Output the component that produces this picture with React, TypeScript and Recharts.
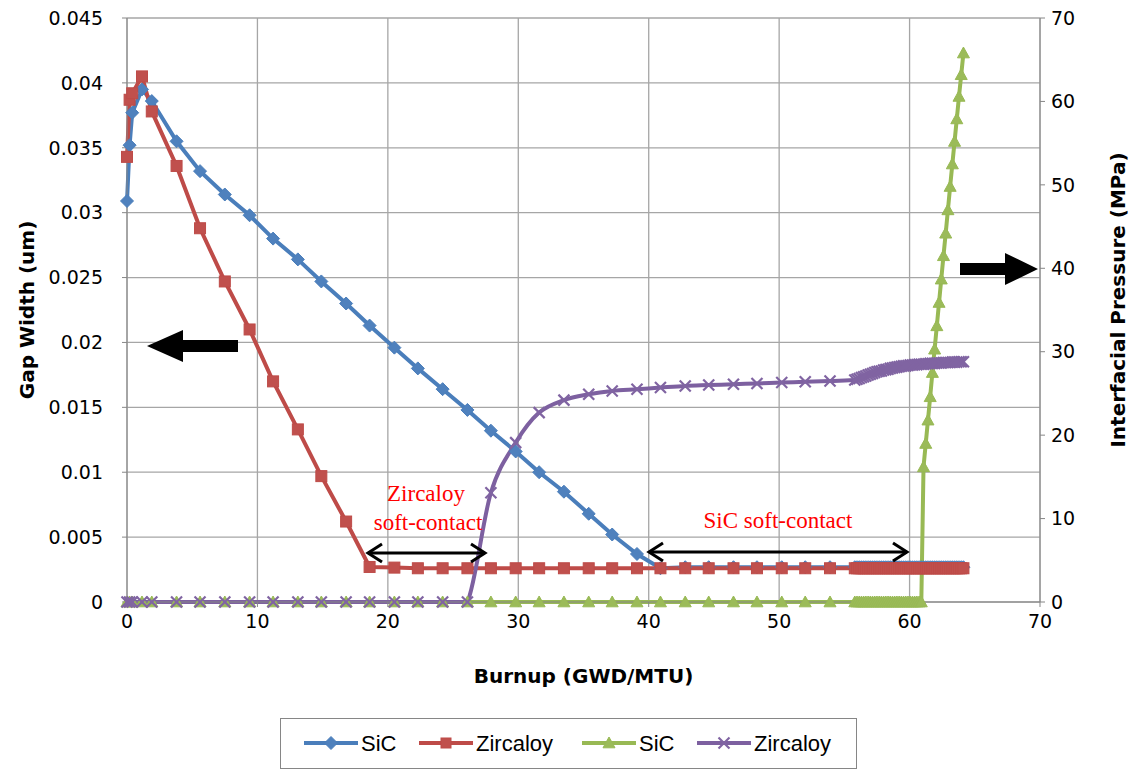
import type { ReactElement } from 'react'
import { LineChart, Line, XAxis, YAxis, CartesianGrid, Label } from 'recharts'

// burnup (GWD/MTU) sampled points; the tail from 55.8 is the fine-step region
const burnup = [
  0, 0.2, 0.4, 1.15, 1.9, 3.8, 5.6, 7.5, 9.4, 11.2,
  13.1, 14.9, 16.8, 18.6, 20.5, 22.3, 24.2, 26.1, 27.9, 29.8,
  31.6, 33.5, 35.4, 37.2, 39.1, 40.9, 42.8, 44.6, 46.5, 48.3,
  50.2, 52.0, 53.9,
  55.8, 55.97, 56.14, 56.31, 56.48, 56.65, 56.82, 56.99, 57.16, 57.33,
  57.5, 57.67, 57.84, 58.01, 58.18, 58.35, 58.52, 58.69, 58.86, 59.03,
  59.2, 59.37, 59.54, 59.71, 59.88, 60.05, 60.22, 60.39, 60.56, 60.73,
  60.9, 61.07, 61.24, 61.41, 61.58, 61.75, 61.92, 62.09, 62.26, 62.43,
  62.6, 62.77, 62.94, 63.11, 63.28, 63.45, 63.62, 63.79, 63.96, 64.13,
]

// gap width (um), left axis
const sicGap = [
  0.0309, 0.0352, 0.0377, 0.0395, 0.0386, 0.0355, 0.0332, 0.0314, 0.0298, 0.028,
  0.0264, 0.0247, 0.023, 0.0213, 0.0196, 0.018, 0.0164, 0.0148, 0.0132, 0.0116,
  0.01, 0.0085, 0.0068, 0.0052, 0.0037, 0.0026, 0.00268, 0.00268, 0.00268, 0.00268,
  0.00268, 0.00268, 0.00268,
  0.00268, 0.00268, 0.00268, 0.00268, 0.00268, 0.00268, 0.00268, 0.00268, 0.00268, 0.00268,
  0.00268, 0.00268, 0.00268, 0.00268, 0.00268, 0.00268, 0.00268, 0.00268, 0.00268, 0.00268,
  0.00268, 0.00268, 0.00268, 0.00268, 0.00268, 0.00268, 0.00268, 0.00268, 0.00268, 0.00268,
  0.00268, 0.00268, 0.00268, 0.00268, 0.00268, 0.00268, 0.00268, 0.00268, 0.00268, 0.00268,
  0.00268, 0.00268, 0.00268, 0.00268, 0.00268, 0.00268, 0.00268, 0.00268, 0.00268, 0.00268,
]

const zrGap = [
  0.0343, 0.0387, 0.0392, 0.0405, 0.0378, 0.0336, 0.0288, 0.0247, 0.021, 0.017,
  0.0133, 0.0097, 0.0062, 0.0027, 0.00265, 0.0026, 0.0026, 0.0026, 0.0026, 0.0026,
  0.0026, 0.0026, 0.0026, 0.0026, 0.0026, 0.0026, 0.0026, 0.0026, 0.0026, 0.0026,
  0.0026, 0.0026, 0.0026,
  0.0026, 0.0026, 0.0026, 0.0026, 0.0026, 0.0026, 0.0026, 0.0026, 0.0026, 0.0026,
  0.0026, 0.0026, 0.0026, 0.0026, 0.0026, 0.0026, 0.0026, 0.0026, 0.0026, 0.0026,
  0.0026, 0.0026, 0.0026, 0.0026, 0.0026, 0.0026, 0.0026, 0.0026, 0.0026, 0.0026,
  0.0026, 0.0026, 0.0026, 0.0026, 0.0026, 0.0026, 0.0026, 0.0026, 0.0026, 0.0026,
  0.0026, 0.0026, 0.0026, 0.0026, 0.0026, 0.0026, 0.0026, 0.0026, 0.0026, 0.0026,
]

// interfacial pressure (MPa), right axis
const sicPressure = [
  0, 0, 0, 0, 0, 0, 0, 0, 0, 0,
  0, 0, 0, 0, 0, 0, 0, 0, 0, 0,
  0, 0, 0, 0, 0, 0, 0, 0, 0, 0,
  0, 0, 0,
  0, 0, 0, 0, 0, 0, 0, 0, 0, 0,
  0, 0, 0, 0, 0, 0, 0, 0, 0, 0,
  0, 0, 0, 0, 0, 0, 0, 0, 0, 0,
  0, 16.2, 19.0, 21.8, 24.6, 27.5, 30.3, 33.1, 35.9, 38.7,
  41.5, 44.2, 47.0, 49.8, 52.5, 55.2, 57.9, 60.6, 63.2, 65.8,
]

const zrPressure = [
  0, 0, 0, 0, 0, 0, 0, 0, 0, 0,
  0, 0, 0, 0, 0, 0, 0, 0, 13.1, 19.1,
  22.7, 24.2, 24.9, 25.3, 25.5, 25.7, 25.9, 26.0, 26.1, 26.2,
  26.3, 26.4, 26.5,
  26.6, 26.7, 26.8, 26.9, 27.0, 27.1, 27.2, 27.3, 27.4, 27.5,
  27.6, 27.65, 27.7, 27.8, 27.85, 27.9, 28.0, 28.05, 28.1, 28.15,
  28.2, 28.25, 28.3, 28.3, 28.35, 28.4, 28.4, 28.45, 28.45, 28.5,
  28.5, 28.5, 28.55, 28.55, 28.6, 28.6, 28.6, 28.65, 28.65, 28.65,
  28.7, 28.7, 28.7, 28.7, 28.75, 28.75, 28.75, 28.8, 28.8, 28.8,
]

const burnupTicks = [0, 10, 20, 30, 40, 50, 60, 70]
const gapTicks = [0, 0.005, 0.01, 0.015, 0.02, 0.025, 0.03, 0.035, 0.04, 0.045]
const pressureTicks = [0, 10, 20, 30, 40, 50, 60, 70]

const rows = burnup.map((x, i) => ({
  x,
  sicGap: sicGap[i],
  zrGap: zrGap[i],
  sicP: sicPressure[i],
  zrP: zrPressure[i],
}))

const BLUE = '#4A7EBB'
const RED = '#BE4B48'
const GREEN = '#98B954'
const PURPLE = '#7D60A0'
const GRID = '#a6a6a6'
const AXIS = '#868686'

const tickStyle = { fill: '#000', fontSize: 19, fontFamily: 'DejaVu Sans' }

// Excel-like smoothing (Catmull-Rom through the points, no vertical overshoot)
type Ctx = {
  moveTo: (x: number, y: number) => void
  bezierCurveTo: (a: number, b: number, c: number, d: number, e: number, f: number) => void
}
function clamp(v: number, a: number, b: number) {
  return Math.min(Math.max(v, Math.min(a, b)), Math.max(a, b))
}
function excelSmooth(context: Ctx) {
  let pts: number[][] = []
  return {
    areaStart() {},
    areaEnd() {},
    lineStart() {
      pts = []
    },
    point(x: number, y: number) {
      pts.push([+x, +y])
    },
    lineEnd() {
      if (pts.length === 0) return
      context.moveTo(pts[0][0], pts[0][1])
      for (let i = 0; i < pts.length - 1; i++) {
        const p0 = pts[i - 1] ?? pts[i]
        const p1 = pts[i]
        const p2 = pts[i + 1]
        const p3 = pts[i + 2] ?? p2
        context.bezierCurveTo(
          p1[0] + (p2[0] - p0[0]) / 6,
          clamp(p1[1] + (p2[1] - p0[1]) / 6, p1[1], p2[1]),
          p2[0] - (p3[0] - p1[0]) / 6,
          clamp(p2[1] - (p3[1] - p1[1]) / 6, p1[1], p2[1]),
          p2[0],
          p2[1],
        )
      }
    },
  }
}

function Diamond({ x, y, r = 6.5 }: { x: number; y: number; r?: number }) {
  return <path d={`M${x} ${y - r}L${x + r} ${y}L${x} ${y + r}L${x - r} ${y}Z`} fill="#4F81BD" stroke={BLUE} strokeWidth={1} />
}
function Square({ x, y, s = 11 }: { x: number; y: number; s?: number }) {
  return <rect x={x - s / 2} y={y - s / 2} width={s} height={s} fill="#C0504D" stroke={RED} strokeWidth={1} />
}
function Triangle({ x, y, r = 6 }: { x: number; y: number; r?: number }) {
  return <path d={`M${x} ${y - r}L${x + r} ${y + r * 0.8}L${x - r} ${y + r * 0.8}Z`} fill="#9BBB59" stroke={GREEN} strokeWidth={1} />
}
function Cross({ x, y, r = 5.5 }: { x: number; y: number; r?: number }) {
  return (
    <g stroke="#8064A2" strokeWidth={2.2}>
      <line x1={x - r} y1={y - r} x2={x + r} y2={y + r} />
      <line x1={x - r} y1={y + r} x2={x + r} y2={y - r} />
    </g>
  )
}

type DotArgs = { cx?: number; cy?: number; index?: number }

function makeDot(kind: 'diamond' | 'square' | 'triangle' | 'cross') {
  return (p: DotArgs): ReactElement => {
    const k = `${kind}-${p.index}`
    if (typeof p.cx !== 'number' || typeof p.cy !== 'number') return <g key={k} />
    if (kind === 'diamond') return <Diamond key={k} x={p.cx} y={p.cy} />
    if (kind === 'square') return <Square key={k} x={p.cx} y={p.cy} />
    if (kind === 'triangle') return <Triangle key={k} x={p.cx} y={p.cy} />
    return <Cross key={k} x={p.cx} y={p.cy} />
  }
}

type VB = { x?: number; y?: number; width?: number; height?: number }

function leftTitle(props: { viewBox?: VB }) {
  const vb = props.viewBox ?? {}
  const x = (vb.x ?? 0) + 27
  const y = (vb.y ?? 0) + (vb.height ?? 0) / 2
  return (
    <text x={x} y={y} transform={`rotate(-90 ${x} ${y})`} textAnchor="middle" dominantBaseline="central"
      fontFamily="DejaVu Sans" fontWeight="bold" fontSize={20} fill="#000">
      Gap Width (um)
    </text>
  )
}

function rightTitle(props: { viewBox?: VB }) {
  const vb = props.viewBox ?? {}
  const x = (vb.x ?? 0) + 78
  const y = (vb.y ?? 0) + (vb.height ?? 0) / 2 - 10
  return (
    <text x={x} y={y} transform={`rotate(-90 ${x} ${y})`} textAnchor="middle" dominantBaseline="central"
      fontFamily="DejaVu Sans" fontWeight="bold" fontSize={20} fill="#000">
      Interfacial Pressure (MPa)
    </text>
  )
}

function bottomTitle(props: { viewBox?: VB }) {
  const vb = props.viewBox ?? {}
  const x = (vb.x ?? 0) + (vb.width ?? 0) / 2
  const y = (vb.y ?? 0) + 74
  return (
    <text x={x} y={y} textAnchor="middle" dominantBaseline="central"
      fontFamily="DejaVu Sans" fontWeight="bold" fontSize={20} fill="#000">
      Burnup (GWD/MTU)
    </text>
  )
}

const legendItems = [
  { label: 'SiC', color: BLUE, marker: 'diamond', x0: 304 },
  { label: 'Zircaloy', color: RED, marker: 'square', x0: 419 },
  { label: 'SiC', color: GREEN, marker: 'triangle', x0: 582 },
  { label: 'Zircaloy', color: PURPLE, marker: 'cross', x0: 697 },
]

function Overlay() {
  const ly = 743
  return (
    <svg width={1135} height={772} style={{ position: 'absolute', left: 0, top: 0, pointerEvents: 'none' }}>
      {/* big direction arrows */}
      <polygon points="147,346 183,330 183,340 238,340 238,352 183,352 183,362" fill="#000" />
      <polygon points="960,263 1005,263 1005,253 1038,269 1005,285 1005,275 960,275" fill="#000" />

      {/* soft-contact spans */}
      <g stroke="#000" strokeWidth={3} fill="none">
        <line x1={368} y1={553} x2={485} y2={553} />
        <polyline points="382,544 368,553 382,562" />
        <polyline points="471,544 485,553 471,562" />
        <line x1={649} y1={552} x2={907} y2={552} />
        <polyline points="663,543 649,552 663,561" />
        <polyline points="893,543 907,552 893,561" />
      </g>
      <g fill="#ff0000" fontFamily="Liberation Serif" fontSize={23} textAnchor="middle" dominantBaseline="central">
        <text x={426} y={493}>Zircaloy</text>
        <text x={428} y={522}>soft-contact</text>
        <text x={778} y={520}>SiC soft-contact</text>
      </g>

      {/* legend */}
      <rect x={280.5} y={718.5} width={576} height={50} fill="#fff" stroke={AXIS} strokeWidth={1} />
      {legendItems.map((it, i) => {
        const mx = it.x0 + 27
        return (
          <g key={i}>
            <line x1={it.x0} y1={ly} x2={it.x0 + 54} y2={ly} stroke={it.color} strokeWidth={4} />
            {it.marker === 'diamond' && <Diamond x={mx} y={ly} />}
            {it.marker === 'square' && <Square x={mx} y={ly} s={10} />}
            {it.marker === 'triangle' && <Triangle x={mx} y={ly} />}
            {it.marker === 'cross' && <Cross x={mx} y={ly} />}
            <text x={it.x0 + 57} y={ly} dominantBaseline="central" fontFamily="Liberation Sans" fontSize={22} fill="#000">
              {it.label}
            </text>
          </g>
        )
      })}
    </svg>
  )
}

export default function App() {
  return (
    <div style={{ position: 'absolute', left: 0, top: 0, width: 1135, height: 772, background: '#fff', overflow: 'hidden' }}>
      <LineChart width={1135} height={772} data={rows} margin={{ top: 18, right: 0, bottom: 80, left: 0 }}>
        <CartesianGrid yAxisId="gap" stroke={GRID} strokeWidth={1.3} />
        <XAxis
          dataKey="x"
          type="number"
          domain={[0, 70]}
          ticks={burnupTicks}
          interval={0}
          height={90}
          tick={tickStyle}
          tickSize={5}
          tickMargin={8}
          axisLine={{ stroke: AXIS }}
          tickLine={{ stroke: AXIS }}
        >
          <Label content={bottomTitle} />
        </XAxis>
        <YAxis
          yAxisId="gap"
          type="number"
          domain={[0, 0.045]}
          ticks={gapTicks}
          interval={0}
          width={127}
          tick={tickStyle}
          tickSize={5}
          tickMargin={19}
          axisLine={{ stroke: AXIS }}
          tickLine={{ stroke: AXIS }}
        >
          <Label content={leftTitle} />
        </YAxis>
        <YAxis
          yAxisId="mpa"
          orientation="right"
          type="number"
          domain={[0, 70]}
          ticks={pressureTicks}
          interval={0}
          width={95}
          tick={tickStyle}
          tickSize={5}
          tickMargin={6}
          axisLine={{ stroke: AXIS }}
          tickLine={{ stroke: AXIS }}
        >
          <Label content={rightTitle} />
        </YAxis>
        <Line yAxisId="gap" dataKey="sicGap" type="linear" stroke={BLUE} strokeWidth={4}
          dot={makeDot('diamond')} activeDot={false} isAnimationActive={false} />
        <Line yAxisId="gap" dataKey="zrGap" type="linear" stroke={RED} strokeWidth={4}
          dot={makeDot('square')} activeDot={false} isAnimationActive={false} />
        <Line yAxisId="mpa" dataKey="sicP" type="linear" stroke={GREEN} strokeWidth={4}
          dot={makeDot('triangle')} activeDot={false} isAnimationActive={false} />
        <Line yAxisId="mpa" dataKey="zrP" type={excelSmooth as never} stroke={PURPLE} strokeWidth={4}
          dot={makeDot('cross')} activeDot={false} isAnimationActive={false} />
      </LineChart>
      <Overlay />
    </div>
  )
}
